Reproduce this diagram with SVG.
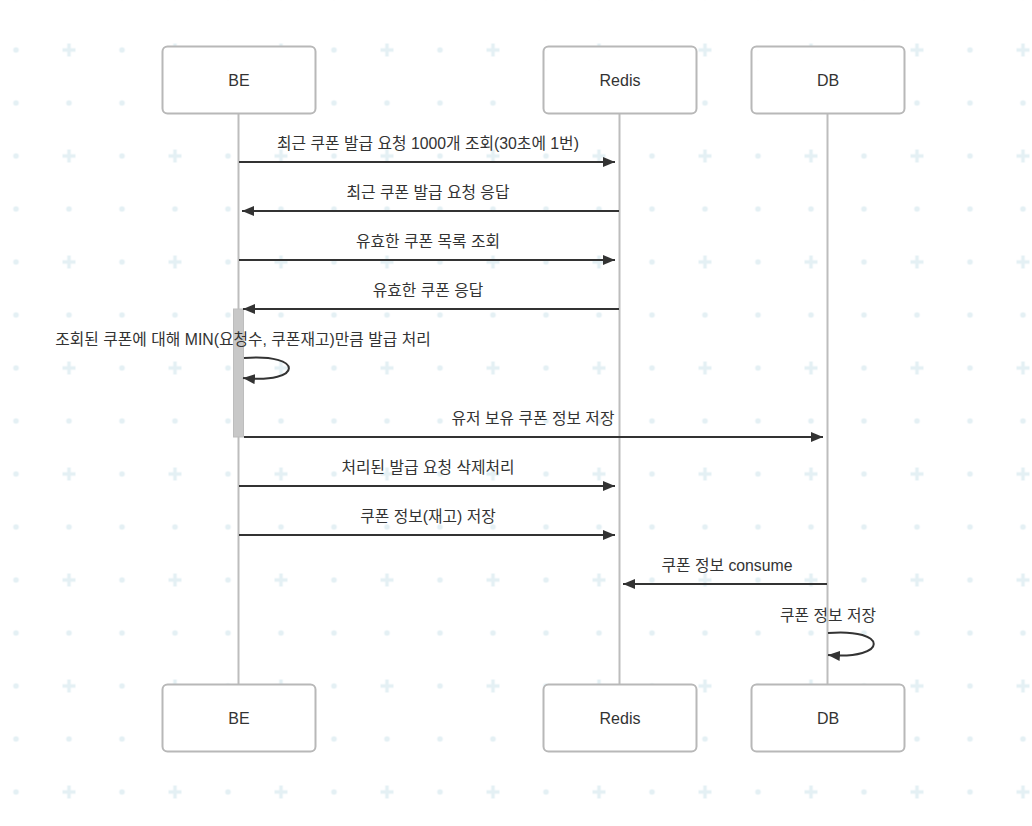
<svg xmlns="http://www.w3.org/2000/svg" width="1032" height="826" viewBox="0 0 1032 826">
<style>
.actor rect{fill:#fff;stroke:#b8b8b8;stroke-width:2}
.actor text,.lbl{font-family:"Liberation Sans","Noto Sans CJK KR",sans-serif;fill:#333;text-anchor:middle}
.actor text{font-size:16px}
.lbl{font-size:15.8px}
.life{stroke:#bdbdbd;stroke-width:2;fill:none}
.msg{stroke:#333;stroke-width:2;fill:none;marker-end:url(#ah)}
.bg{fill:#e4f0f4;stroke:none}
</style>
<defs>
<marker id="ah" viewBox="0 0 12 10" refX="12" refY="5" markerWidth="12" markerHeight="10" markerUnits="userSpaceOnUse" orient="auto">
<path d="M0,0 L12,5 L0,10 z" fill="#333"/>
</marker>
<pattern id="grid" patternUnits="userSpaceOnUse" x="-10.5" y="23.5" width="106" height="106">
<circle class="bg" cx="26.5" cy="26.5" r="2.8"/>
<path class="bg" d="M73,24.75 h13 v3.5 h-13 z M77.75,20 h3.5 v13 h-3.5 z"/>
<circle class="bg" cx="26.5" cy="79.5" r="2.8"/>
<circle class="bg" cx="79.5" cy="79.5" r="2.8"/>
</pattern>
</defs>
<rect width="1032" height="826" fill="#fff"/>
<rect width="1032" height="826" fill="url(#grid)"/>
<g id="lifelines">
<line class="life" x1="238.5" y1="113" x2="238.5" y2="684"/>
<line class="life" x1="619.5" y1="113" x2="619.5" y2="684"/>
<line class="life" x1="827.5" y1="113" x2="827.5" y2="684"/>
</g>
<g id="BE-top" class="actor"><rect x="162.5" y="46.5" width="153" height="67" rx="5"/><text x="239" y="86">BE</text></g>
<g id="Redis-top" class="actor"><rect x="543.5" y="46.5" width="153" height="67" rx="5"/><text x="620" y="86">Redis</text></g>
<g id="DB-top" class="actor"><rect x="751.5" y="46.5" width="153" height="67" rx="5"/><text x="828" y="86">DB</text></g>
<g id="BE-bottom" class="actor"><rect x="162.5" y="684.5" width="153" height="67" rx="5"/><text x="239" y="724">BE</text></g>
<g id="Redis-bottom" class="actor"><rect x="543.5" y="684.5" width="153" height="67" rx="5"/><text x="620" y="724">Redis</text></g>
<g id="DB-bottom" class="actor"><rect x="751.5" y="684.5" width="153" height="67" rx="5"/><text x="828" y="724">DB</text></g>
<g id="activation"><rect x="233.5" y="309" width="10" height="128" fill="#c8c8c8" stroke="#bdbdbd" stroke-width="1"/></g>
<g id="connectors">
<line class="msg" x1="239" y1="162" x2="615" y2="162"/>
<line class="msg" x1="619" y1="211" x2="242" y2="211"/>
<line class="msg" x1="239" y1="260" x2="615" y2="260"/>
<line class="msg" x1="619" y1="309" x2="243" y2="309"/>
<path class="msg" d="M244,358 C304,353 304,384 243,378"/>
<line class="msg" x1="244" y1="437" x2="823" y2="437"/>
<line class="msg" x1="239" y1="486" x2="615" y2="486"/>
<line class="msg" x1="239" y1="535" x2="615" y2="535"/>
<line class="msg" x1="827" y1="584" x2="623" y2="584"/>
<path class="msg" d="M828,633 C889,628 889,660 828,655"/>
</g>
<g id="labels">
<text class="lbl" x="428" y="149">최근 쿠폰 발급 요청 1000개 조회(30초에 1번)</text>
<text class="lbl" x="428" y="198">최근 쿠폰 발급 요청 응답</text>
<text class="lbl" x="428" y="247">유효한 쿠폰 목록 조회</text>
<text class="lbl" x="428" y="296">유효한 쿠폰 응답</text>
<text class="lbl" x="243" y="345">조회된 쿠폰에 대해 MIN(요청수, 쿠폰재고)만큼 발급 처리</text>
<text class="lbl" x="533" y="424">유저 보유 쿠폰 정보 저장</text>
<text class="lbl" x="428" y="473">처리된 발급 요청 삭제처리</text>
<text class="lbl" x="428" y="522">쿠폰 정보(재고) 저장</text>
<text class="lbl" x="727" y="571">쿠폰 정보 consume</text>
<text class="lbl" x="828" y="621">쿠폰 정보 저장</text>
</g>
</svg>
